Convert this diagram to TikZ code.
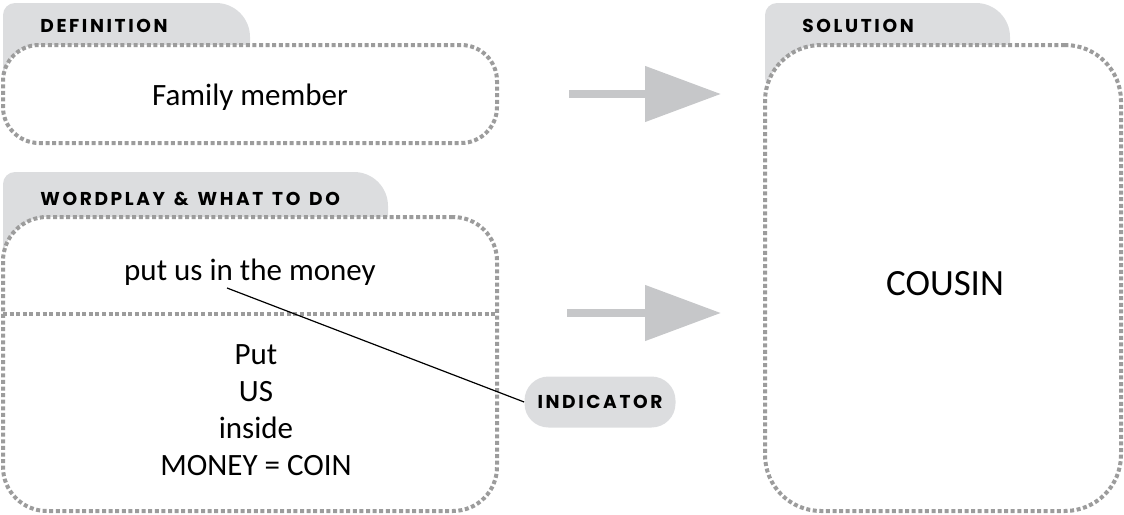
\documentclass[tikz,border=0pt]{standalone}
\usepackage{fontspec}
\setmainfont{Carlito}
\newfontfamily\headfont{Poppins}[LetterSpace=14, WordSpace=1.35]
\usetikzlibrary{arrows.meta, positioning}
\definecolor{tabgray}{HTML}{DCDDDF}
\definecolor{arrowgray}{HTML}{C6C7C9}
\definecolor{dotgray}{HTML}{9C9C9C}

\begin{document}
\begin{tikzpicture}[x=0.5pt, y=-0.5pt,
    dotline/.style={draw=dotgray, line width=2pt, dash pattern=on 2pt off 1.3pt},
    dotbox/.style={dotline, fill=white, inner sep=0pt},
    tablabel/.style={anchor=west, inner sep=0pt, font=\headfont\bfseries\fontsize{9.3}{11}\selectfont},
    bodytext/.style={font=\fontsize{15.5}{18.5}\selectfont, align=center},
    bigarrow/.style={draw=arrowgray, line width=4pt, -{Triangle[length=38pt, width=27pt]}}]
    \useasboundingbox (0,0) rectangle (1124,514);

    % tabs
    \fill[tabgray, rounded corners=6pt] (3,3) rectangle (200,90);
    \fill[tabgray, rounded corners=17pt] (100,3) rectangle (250,90);
    \fill[tabgray, rounded corners=6pt] (3,172) rectangle (300,262);
    \fill[tabgray, rounded corners=17pt] (200,172) rectangle (388,262);
    \fill[tabgray, rounded corners=6pt] (765,3) rectangle (950,90);
    \fill[tabgray, rounded corners=17pt] (850,3) rectangle (1010,90);

    % boxes
    \node[dotbox, rounded corners=18pt, minimum width=247pt, minimum height=49pt] (defbox) at (250,94) {};
    \node[dotbox, rounded corners=22pt, minimum width=247pt, minimum height=147pt] (wpbox) at (250,364) {};
    \node[dotbox, rounded corners=28pt, minimum width=178pt, minimum height=233pt] (solbox) at (943,278) {};
    \draw[dotline] (3,314) -- (497,314);

    % tab labels
    \node[tablabel] (deftab) at (40,26) {DEFINITION};
    \node[tablabel] (wptab) at (40,199) {WORDPLAY \& WHAT TO DO};
    \node[tablabel] (soltab) at (802,26) {SOLUTION};

    % texts
    \node[bodytext] (deftext) at (250,97) {Family member};
    \node[bodytext] (clue) at (250,272) {put us in the money};
    \node[bodytext] (steps) at (256,410) {Put\\US\\inside\\MONEY = COIN};
    \node[font=\fontsize{18.5}{22}\selectfont] (answer) at (945,284) {COUSIN};

    % arrows
    \coordinate (wpmid) at (497,313);
    \draw[bigarrow, shorten <=35pt, shorten >=21pt] (defbox.east) -- (defbox.east -| solbox.west);
    \draw[bigarrow, shorten <=35pt, shorten >=21pt] (wpmid) -- (wpmid -| solbox.west);

    % indicator
    \node[fill=tabgray, rounded corners=12pt, minimum width=75.5pt, minimum height=25.5pt,
          inner sep=0pt, font=\headfont\bfseries\fontsize{9.3}{11}\selectfont] (indicator) at (600,402) {INDICATOR};
    \coordinate (inword) at (227,288);
    \draw[line width=0.6pt] (inword) -- (indicator.west);
\end{tikzpicture}
\end{document}
